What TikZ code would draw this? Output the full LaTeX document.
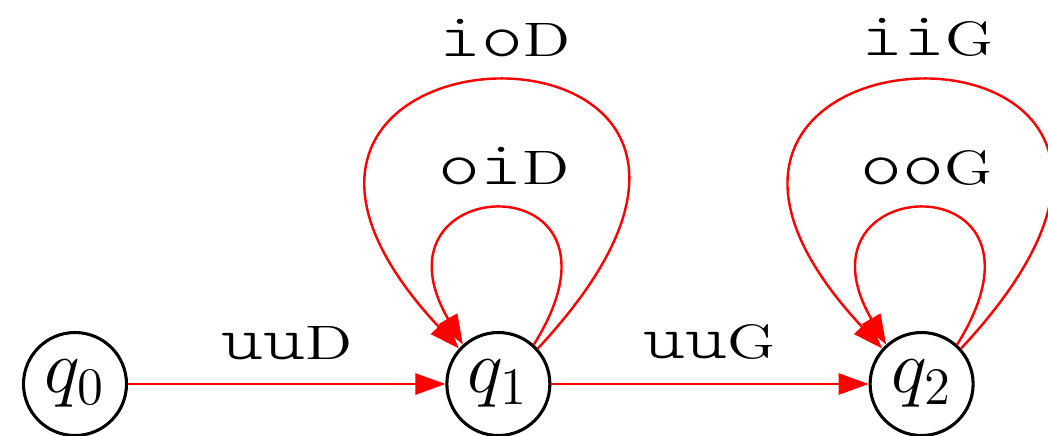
\documentclass[tikz,border=0pt]{standalone}
\usepackage{fontspec}
\newfontfamily\lblmono{Latin Modern Mono Light}
\usepackage{tikz}
\usetikzlibrary{arrows.meta, positioning}
\newcommand{\trans}[2]{\scalebox{1.3}[1]{\fontsize{14}{16}\lblmono #1\fontsize{11}{13}\rmfamily\selectfont #2}}

\begin{document}
\begin{tikzpicture}[
    st/.style={circle, draw, line width=0.7pt, minimum size=0.824cm, inner sep=0pt, font=\LARGE},
    arr/.style={-{Triangle[length=6.8pt,width=4.8pt]}, line width=0.55pt, red},
    lbl/.style={above=2pt, text=black}
]
\useasboundingbox (0,0) rectangle (8.384,3.48);
\node[st] (q0) at (0.6,0.408) {$q_0$};
\node[st] (q1) at (3.987,0.408) {$q_1$};
\node[st] (q2) at (7.373,0.408) {$q_2$};
\draw[arr] (q0) -- node[lbl] {\trans{uu}{D}} (q1);
\draw[arr] (q1) -- node[lbl] {\trans{uu}{G}} (q2);
% loops on q1
\draw[arr] (q1.48) .. controls +(58:1.74) and +(120:1.62) .. node[lbl] {\trans{oi}{D}} (q1.132);
\draw[arr] (q1.42) .. controls +(47:4.0) and +(133:3.8) .. node[lbl] {\trans{io}{D}} (q1.138);
% loops on q2
\draw[arr] (q2.48) .. controls +(58:1.74) and +(120:1.62) .. node[lbl] {\trans{oo}{G}} (q2.132);
\draw[arr] (q2.42) .. controls +(47:4.0) and +(133:3.8) .. node[lbl] {\trans{ii}{G}} (q2.138);
\end{tikzpicture}
\end{document}
